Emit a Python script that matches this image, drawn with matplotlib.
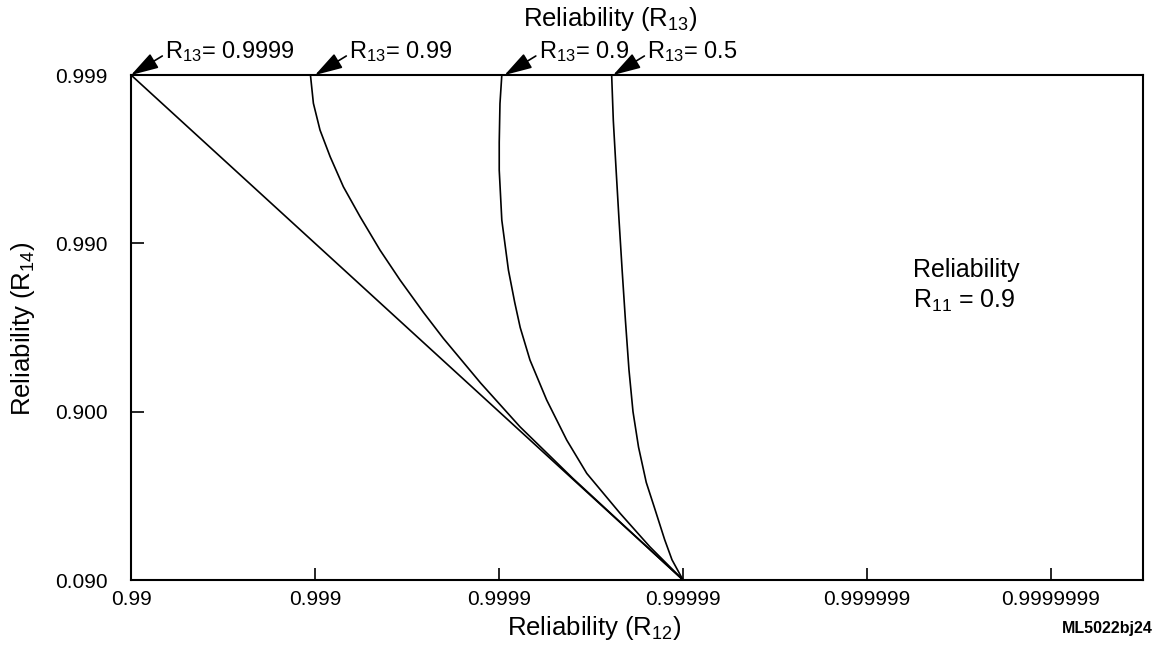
import matplotlib.pyplot as plt

plt.rcParams['font.family'] = ['Liberation Sans', 'DejaVu Sans']
plt.rcParams['mathtext.fontset'] = 'custom'
plt.rcParams['mathtext.rm'] = 'Liberation Sans'
plt.rcParams['mathtext.it'] = 'Liberation Sans'
plt.rcParams['mathtext.bf'] = 'Liberation Sans:bold'

# x = decades of R12 (-log10(1-R12)), y = position of R14 tick
x_ticks = [2, 3, 4, 5, 6, 7]
x_labels = ['0.99', '0.999', '0.9999', '0.99999', '0.999999', '0.9999999']
y_ticks = [0, 1, 2, 3]
y_labels = ['0.090', '0.900', '0.990', '0.999']

# R13 = 0.9999
r9999_x = [2.0, 5.0]
r9999_y = [3.0, 0.0]
# R13 = 0.99
r99_x = [2.975, 2.991, 3.027, 3.082, 3.154, 3.245, 3.353, 3.462, 3.589, 3.697, 3.90, 4.114, 4.40, 4.70, 5.0]
r99_y = [3.0, 2.832, 2.673, 2.515, 2.336, 2.158, 1.960, 1.782, 1.590, 1.436, 1.170, 0.910, 0.605, 0.302, 0.0]
# R13 = 0.9
r9_x = [4.015, 4.005, 4.001, 4.001, 4.015, 4.051, 4.085, 4.115, 4.168, 4.259, 4.368, 4.477, 4.658, 4.82, 5.0]
r9_y = [3.0, 2.83, 2.60, 2.435, 2.138, 1.841, 1.65, 1.50, 1.307, 1.069, 0.831, 0.633, 0.396, 0.197, 0.0]
# R13 = 0.5
r5_x = [4.612, 4.621, 4.636, 4.652, 4.669, 4.687, 4.706, 4.728, 4.758, 4.80, 4.843, 4.90, 4.94, 5.0]
r5_y = [3.0, 2.73, 2.44, 2.14, 1.84, 1.54, 1.25, 1.0, 0.79, 0.58, 0.435, 0.24, 0.12, 0.0]

ann_text = [r'R$_{13}$= 0.9999', r'R$_{13}$= 0.99', r'R$_{13}$= 0.9', r'R$_{13}$= 0.5']
ann_tip = [2.0, 3.0, 4.03, 4.62]

fig = plt.figure(figsize=(11.69, 6.49), dpi=100)
ax = fig.add_axes([0.1121, 0.1063, 0.8657, 0.7781])

for xs, ys in [(r9999_x, r9999_y), (r99_x, r99_y), (r9_x, r9_y), (r5_x, r5_y)]:
	ax.plot(xs, ys, color='black', lw=1.2, solid_joinstyle='round')

ax.set_xlim(2, 7.5)
ax.set_ylim(0, 3)
ax.set_xticks(x_ticks)
ax.set_xticklabels(x_labels)
ax.set_yticks(y_ticks)
ax.set_yticklabels(y_labels)
ax.tick_params(direction='in', length=9, width=1.2, labelsize=15)
ax.tick_params(axis='x', pad=7)
ax.tick_params(axis='y', pad=17)
for s in ax.spines.values():
	s.set_linewidth(1.5)

for txt, xt in zip(ann_text, ann_tip):
	ax.annotate(txt, xy=(xt, 3.0), xytext=(24.5, 12), textcoords='offset points',
		fontsize=17, va='baseline', ha='left',
		arrowprops=dict(arrowstyle='-|>,head_length=1.0,head_width=0.3', color='black',
			lw=1.2, shrinkA=0, shrinkB=0, relpos=(0, 0.4)))

fig.text(0.4474, 0.96, r'Reliability (R$_{13}$)', fontsize=18.5, ha='left', va='baseline')
fig.text(0.4335, 0.021, r'Reliability (R$_{12}$)', fontsize=18.5, ha='left', va='baseline')
fig.text(0.0195, 0.493, r'Reliability (R$_{14}$)', fontsize=18.5, ha='center', va='center', rotation=90)
fig.text(0.986, 0.031, 'ML5022bj24', fontsize=11.5, ha='right', va='center', fontweight='bold')
fig.text(0.7813, 0.5737, 'Reliability', fontsize=18, ha='left', va='baseline')
fig.text(0.7813, 0.5254, r'R$_{11}$ = 0.9', fontsize=18, ha='left', va='baseline')

fig.savefig('out.png', dpi=100)
